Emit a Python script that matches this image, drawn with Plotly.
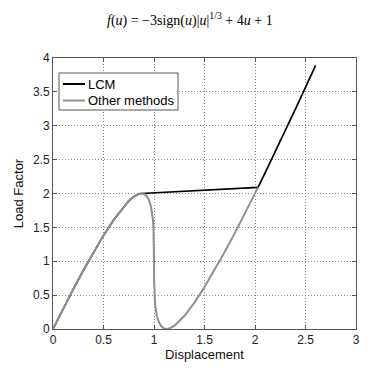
import plotly.graph_objects as go

# Displacement / load factor values
other_u = [0.0, 0.1, 0.2, 0.3, 0.4, 0.5, 0.6, 0.7, 0.75, 0.8, 0.85, 0.875, 0.9, 0.93, 0.95,
           0.97, 0.98, 0.99, 0.995, 0.999, 1.0, 1.001, 1.005, 1.01, 1.02, 1.03, 1.05, 1.07,
           1.1, 1.125, 1.15, 1.2, 1.3, 1.4, 1.5, 1.6, 1.7, 1.8, 1.9, 2.0, 2.03]
other_lf = [0.0, 0.297, 0.585, 0.864, 1.130, 1.381, 1.610, 1.808, 1.890, 1.954, 1.994, 2.0,
            1.993, 1.956, 1.905, 1.812, 1.734, 1.606, 1.493, 1.296, 1.0, 0.704, 0.507, 0.394,
            0.266, 0.188, 0.095, 0.044, 0.008, 0.0, 0.006, 0.046, 0.192, 0.390, 0.619, 0.870,
            1.136, 1.415, 1.704, 2.0, 2.09]

lcm_u = [0.0, 0.1, 0.2, 0.3, 0.4, 0.5, 0.6, 0.7, 0.75, 0.8, 0.85, 0.875, 2.03, 2.1, 2.2,
         2.3, 2.4, 2.5, 2.6]
lcm_lf = [0.0, 0.297, 0.585, 0.864, 1.130, 1.381, 1.610, 1.808, 1.890, 1.954, 1.994, 2.0,
          2.09, 2.303, 2.612, 2.926, 3.244, 3.566, 3.891]

x_ticks = [0, 0.5, 1, 1.5, 2, 2.5, 3]
y_ticks = [0, 0.5, 1, 1.5, 2, 2.5, 3, 3.5, 4]
series_names = ["LCM", "Other methods"]
series_colors = ["#000000", "#8f8f8f"]

# plot area in pixels
L, R, T, B = 53, 356, 58, 329
W, H = 380, 369


def px(xp):
    return (xp - L) / (R - L)


def py(yp):
    return (B - yp) / (B - T)


fig = go.Figure()
fig.add_trace(go.Scatter(x=lcm_u, y=lcm_lf, mode="lines", name=series_names[0],
                         line=dict(color=series_colors[0], width=1.7), showlegend=False))
fig.add_trace(go.Scatter(x=other_u, y=other_lf, mode="lines", name=series_names[1],
                         line=dict(color=series_colors[1], width=2), showlegend=False))

axis_common = dict(showline=True, linecolor="#555555", linewidth=1, mirror="ticks",
                   ticks="inside", ticklen=4, tickcolor="#555555",
                   showgrid=True, gridcolor="#8a8a8a", griddash="1px,2px", gridwidth=1,
                   zeroline=False, automargin=False,
                   tickfont=dict(family="Liberation Sans", size=12, color="#222"))
fig.update_xaxes(range=[0, 3], tickvals=x_ticks, ticktext=[str(v) for v in x_ticks],
                 title=dict(text="Displacement", standoff=2,
                            font=dict(family="Liberation Sans", size=13, color="#111")),
                 **axis_common)
fig.update_yaxes(range=[0, 4], tickvals=y_ticks, ticktext=[str(v) for v in y_ticks],
                 title=dict(text="Load Factor", standoff=6,
                            font=dict(family="Liberation Sans", size=13, color="#111")),
                 **axis_common)

# manual legend (box, line samples, labels)
shapes = [dict(type="rect", xref="paper", yref="paper", x0=px(59), x1=px(178),
               y0=py(110), y1=py(73), line=dict(color="#555555", width=1),
               fillcolor="white", layer="above")]
annotations = []
for i, (nm, col) in enumerate(zip(series_names, series_colors)):
    yy = 84 + i * 16.5
    shapes.append(dict(type="line", xref="paper", yref="paper", x0=px(63), x1=px(85),
                       y0=py(yy), y1=py(yy), line=dict(color=col, width=2), layer="above"))
    annotations.append(dict(text=nm, xref="paper", yref="paper", x=px(86), y=py(yy),
                            xanchor="left", yanchor="middle", showarrow=False,
                            font=dict(family="Liberation Sans", size=13, color="#000")))

annotations.append(dict(
    text="<i>f</i>(<i>u</i>) = −3sign(<i>u</i>)|<i>u</i>|<sup>1/3</sup> + 4<i>u</i> + 1",
    xref="paper", yref="paper", x=px(190), y=py(20),
    xanchor="center", yanchor="middle", showarrow=False,
    font=dict(family="Liberation Serif", size=14, color="#000")))

fig.update_layout(
    width=W, height=H,
    margin=dict(l=L, r=W - R, t=T, b=H - B),
    plot_bgcolor="white", paper_bgcolor="white",
    showlegend=False,
    shapes=shapes,
    annotations=annotations,
)

fig.write_html("out.html", config={"displayModeBar": False},
               post_script="document.body.style.margin='0';")
